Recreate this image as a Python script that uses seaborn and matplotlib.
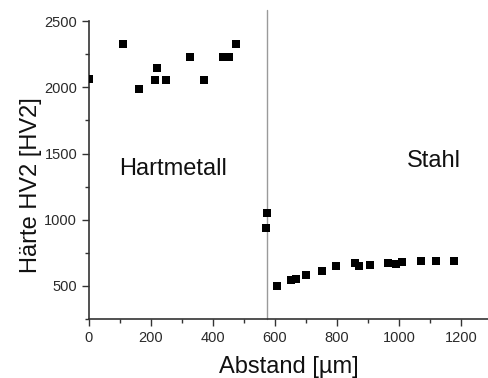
import numpy as np
import pandas as pd
import matplotlib
matplotlib.use("Agg")
import matplotlib.pyplot as plt
import seaborn as sns
from matplotlib.ticker import MultipleLocator

# Härte-Messpunkte (Abstand in µm, Härte in HV2)
abstand_hm = [0, 109, 160, 213, 219, 248, 326, 372, 431, 451, 475]
haerte_hm = [2060, 2324, 1987, 2057, 2143, 2057, 2228, 2057, 2231, 2231, 2324]

abstand_st = [572, 574, 605, 650, 667, 700, 750, 795, 858, 871, 905,
              963, 990, 1008, 1070, 1118, 1176]
haerte_st = [940, 1049, 500, 545, 555, 585, 610, 648, 672, 650, 660,
             675, 662, 678, 690, 690, 690]

grenze = 575  # Übergang Hartmetall / Stahl

df = pd.DataFrame({
    "abstand": abstand_hm + abstand_st,
    "haerte": haerte_hm + haerte_st,
})

sns.set_style("ticks")
plt.rcParams['font.family'] = ['Liberation Sans', 'DejaVu Sans']

fig = plt.figure(figsize=(4.89, 3.78), dpi=100)
ax = fig.add_axes([0.182, 0.156, 0.818, 0.788])

ax.axvline(grenze, ymin=0, ymax=1.037, color="#9a9a9a", lw=1.0, zorder=1,
           clip_on=False)
sns.scatterplot(data=df, x="abstand", y="haerte", marker="s", s=30,
                color="black", edgecolor="black", linewidth=0, ax=ax, zorder=3)

ax.set_xlim(0, 1290)
ax.set_ylim(250, 2500)
ax.xaxis.set_major_locator(MultipleLocator(200))
ax.xaxis.set_minor_locator(MultipleLocator(100))
ax.yaxis.set_major_locator(MultipleLocator(500))
ax.yaxis.set_minor_locator(MultipleLocator(250))

ax.tick_params(axis="both", which="major", direction="out", length=5, width=1,
               labelsize=10.5, labelcolor="#2a2a2a", color="#333333")
ax.tick_params(axis="both", which="minor", direction="out", length=3, width=1,
               color="#333333")

for s in ["top", "right"]:
    ax.spines[s].set_visible(False)
for s in ["left", "bottom"]:
    ax.spines[s].set_color("#333333")
    ax.spines[s].set_linewidth(1.2)

ax.text(97, 1337, "Hartmetall", fontsize=17, color="#111111", va="baseline")
ax.text(1026, 1397, "Stahl", fontsize=17, color="#111111", va="baseline")

ax.set_xlabel("Abstand [µm]", fontsize=17, color="#111111")
ax.xaxis.set_label_coords(0.5, -0.125)
ax.set_ylabel("Härte HV2 [HV2]", fontsize=17, color="#111111")
ax.yaxis.set_label_coords(-0.118, 0.45)

plt.savefig("out.png", dpi=100)
